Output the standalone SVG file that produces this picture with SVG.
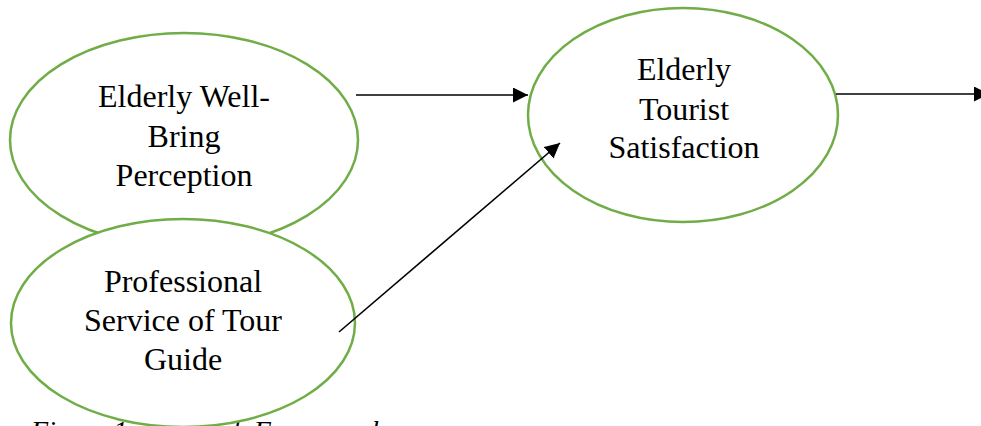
<svg xmlns="http://www.w3.org/2000/svg" width="981" height="426" viewBox="0 0 981 426">
<style>
.node{fill:#fff;stroke:#70AD47;stroke-width:2.5}
.lbl{font-family:'Liberation Serif','Times New Roman','DejaVu Serif',serif;font-size:32px;fill:#000;text-anchor:middle}
.cap{font-family:'Liberation Serif','Times New Roman','DejaVu Serif',serif;font-size:28px;font-style:italic;fill:#000}
.conn{stroke:#000;stroke-width:1.6;fill:none}
</style>
<defs>
<marker id="ah" markerUnits="userSpaceOnUse" markerWidth="16" markerHeight="16" refX="15" refY="7.5" orient="auto">
<path d="M0,0 L15,7.5 L0,15 Z" fill="#000"/>
</marker>
</defs>
<rect width="981" height="426" fill="#fff"/>
<g id="node-wellbeing">
<ellipse class="node" cx="184" cy="140" rx="174" ry="107"/>
<text class="lbl" x="184" y="107">Elderly Well-</text>
<text class="lbl" x="184" y="147">Bring</text>
<text class="lbl" x="184" y="186">Perception</text>
</g>
<text class="cap" x="31" y="440">Figure 1: Research Framework</text>
<g id="node-guide">
<ellipse class="node" cx="183" cy="323" rx="172" ry="104"/>
<text class="lbl" x="183" y="292">Professional</text>
<text class="lbl" x="183" y="331">Service of Tour</text>
<text class="lbl" x="183" y="370">Guide</text>
</g>
<g id="node-satisfaction">
<ellipse class="node" cx="683" cy="115" rx="155" ry="107"/>
<text class="lbl" x="684" y="80">Elderly</text>
<text class="lbl" x="684" y="120">Tourist</text>
<text class="lbl" x="684" y="158">Satisfaction</text>
</g>
<g id="connectors">
<line class="conn" x1="356" y1="95" x2="528" y2="95" marker-end="url(#ah)"/>
<line class="conn" x1="339" y1="332" x2="560" y2="143" marker-end="url(#ah)"/>
<line class="conn" x1="836" y1="94" x2="989" y2="94" marker-end="url(#ah)"/>
</g>
</svg>
